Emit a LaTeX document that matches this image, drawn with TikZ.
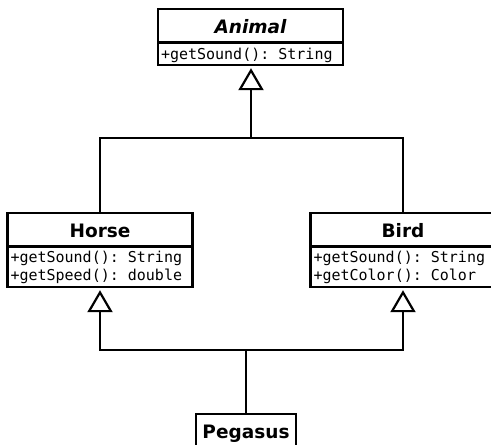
\documentclass[tikz,border=0pt]{standalone}
\usepackage{fontspec}
\setmainfont{DejaVu Sans}
\setmonofont{DejaVu Sans Mono}
\usetikzlibrary{shapes.multipart,arrows.meta}

\begin{document}
\begin{tikzpicture}[
    x=1pt, y=-1pt,
    classbox/.style={rectangle split, rectangle split parts=2, draw, line width=2.4pt,
        minimum width=185pt, inner xsep=3pt, inner ysep=0pt,
        font=\fontsize{15}{18}\selectfont\ttfamily,
        rectangle split part align={center,left}, align=left, anchor=north},
    namebox/.style={draw, line width=2.4pt, inner xsep=6.5pt, inner ysep=0pt, anchor=north},
    bus/.style={line width=2.7pt},
    isa/.style={bus, shorten >=2pt, -{Triangle[open, length=22pt, width=25pt, line width=2.2pt]}}
]
    \useasboundingbox (0,0) rectangle (491,445);

    \node [classbox] (animal) at (250.5,8) {%
        \fontsize{18.5}{22}\selectfont\rmfamily\bfseries\itshape\rule[-8pt]{0pt}{31pt}Animal
        \nodepart{second}\rule[-4pt]{0pt}{20pt}+getSound(): String};
    \node [classbox] (horse) at (100,212) {%
        \fontsize{18.5}{22}\selectfont\rmfamily\bfseries\rule[-8pt]{0pt}{31pt}Horse
        \nodepart{second}\rule{0pt}{15pt}+getSound(): String\\
        +getSpeed(): double\rule[-5pt]{0pt}{5pt}};
    \node [classbox] (bird) at (403,212) {%
        \fontsize{18.5}{22}\selectfont\rmfamily\bfseries\rule[-8pt]{0pt}{31pt}Bird
        \nodepart{second}\rule{0pt}{15pt}+getSound(): String\\
        +getColor(): Color\rule[-5pt]{0pt}{5pt}};
    \node [namebox] (pegasus) at (246,413) {%
        \fontsize{18.5}{22}\selectfont\bfseries\rule[-10pt]{0pt}{34pt}Pegasus};

    % Horse, Bird -> Animal
    \coordinate (upper) at (251,138);
    \draw [bus] (horse.north) |- (upper) -| (bird.north);
    \draw [isa] (upper) -- (upper |- animal.south);

    % Pegasus -> Horse, Bird
    \coordinate (lower) at (246,350);
    \draw [bus] (pegasus.north) -- (lower);
    \draw [isa] (lower) -| (horse.south);
    \draw [isa] (lower) -| (bird.south);
\end{tikzpicture}
\end{document}
